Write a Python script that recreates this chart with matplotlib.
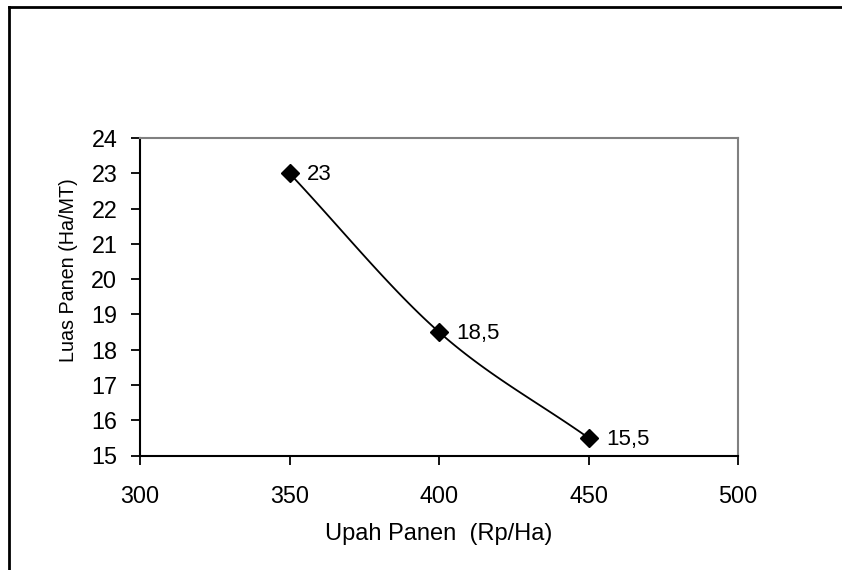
import numpy as np
import matplotlib
matplotlib.use("Agg")
import matplotlib.pyplot as plt
from matplotlib.lines import Line2D

plt.rcParams['font.family'] = ['Liberation Sans', 'DejaVu Sans']

upah = [350, 400, 450]
luas = [23, 18.5, 15.5]
labels = ["23", "18,5", "15,5"]
x_ticks = [300, 350, 400, 450, 500]
y_ticks = [15, 16, 17, 18, 19, 20, 21, 22, 23, 24]


def smooth(xs, ys, n=30):
    # Catmull-Rom style smoothing like Excel's smoothed line
    px = [2 * xs[0] - xs[1]] + list(xs) + [2 * xs[-1] - xs[-2]]
    py = [2 * ys[0] - ys[1]] + list(ys) + [2 * ys[-1] - ys[-2]]
    out_x, out_y = [], []
    for i in range(1, len(px) - 2):
        t = np.linspace(0, 1, n)
        for p, out in ((px, out_x), (py, out_y)):
            p0, p1, p2, p3 = p[i - 1], p[i], p[i + 1], p[i + 2]
            out.extend(0.5 * ((2 * p1) + (-p0 + p2) * t
                              + (2 * p0 - 5 * p1 + 4 * p2 - p3) * t ** 2
                              + (-p0 + 3 * p1 - 3 * p2 + p3) * t ** 3))
    return out_x, out_y


fig = plt.figure(figsize=(8.42, 5.70), dpi=100)
ax = fig.add_axes([140 / 842, 1 - 455.5 / 570, 598 / 842, 317.5 / 570])

sx, sy = smooth(upah, luas)
ax.plot(sx, sy, color="black", lw=1.3, zorder=2)
ax.plot(upah, luas, linestyle="none", marker="D", markersize=9.3,
        color="black", zorder=3)
for x, y, lab in zip(upah, luas, labels):
    ax.annotate(lab, (x, y), xytext=(12.5, -1), textcoords="offset points",
                va="center", ha="left", fontsize=16)

ax.set_xlim(300, 500)
ax.set_ylim(15, 24)
ax.set_xticks(x_ticks)
ax.set_yticks(y_ticks)
ax.tick_params(axis="both", labelsize=16.8, direction="out", length=6.3,
               width=1.3, color="black")
ax.tick_params(axis="x", pad=15)
ax.tick_params(axis="y", pad=10)

for side in ("left", "bottom"):
    ax.spines[side].set_color("black")
    ax.spines[side].set_linewidth(1.5)
for side in ("top", "right"):
    ax.spines[side].set_color("#808080")
    ax.spines[side].set_linewidth(1.5)

ax.set_xlabel("Upah Panen  (Rp/Ha)", fontsize=17, labelpad=11)
ax.set_ylabel("Luas Panen (Ha/MT)", fontsize=14.2)
ax.yaxis.set_label_coords(-0.104, 0.584)

# outer chart frame (only top and left edges visible)
fig.add_artist(Line2D([9 / 842, 9 / 842], [0, 1 - 7 / 570], color="black",
                      lw=2, transform=fig.transFigure))
fig.add_artist(Line2D([9 / 842, 1], [1 - 7 / 570, 1 - 7 / 570], color="black",
                      lw=2, transform=fig.transFigure))

fig.savefig("out.png", dpi=100)
